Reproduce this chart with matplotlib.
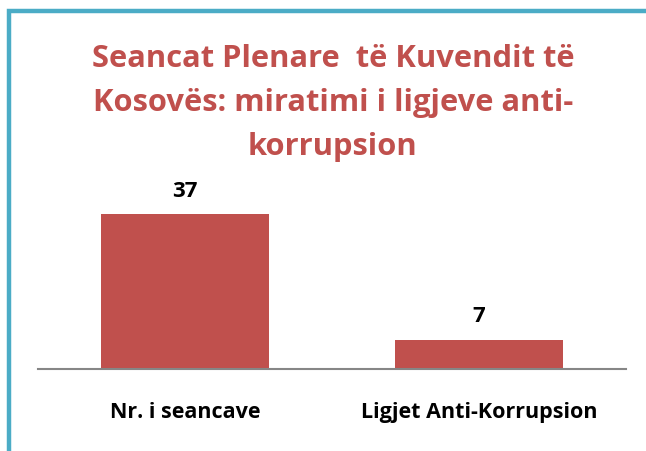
import matplotlib
matplotlib.use("Agg")
import matplotlib.pyplot as plt
from matplotlib.patches import Rectangle

categories = ["Nr. i seancave", "Ligjet Anti-Korrupsion"]
values = [37, 7]
title = "Seancat Plenare  të Kuvendit të\nKosovës: miratimi i ligjeve anti-\nkorrupsion"

W, H = 646, 452
fig = plt.figure(figsize=(W / 100, H / 100), dpi=100)
fig.patch.set_facecolor("white")

# border (cropped frame)
fig.patches.append(Rectangle((9 / W, -0.1), 1.2, (H - 12) / H + 0.1,
                             transform=fig.transFigure, fill=False,
                             edgecolor="#4BACC6", linewidth=3.2, zorder=0))

left, right, bottom = 38, 626, 370
top = bottom - 40 * 4.18
ax = fig.add_axes([left / W, 1 - bottom / H, (right - left) / W, (bottom - top) / H])
ax.set_facecolor("none")
x = range(len(categories))
bars = ax.bar(x, values, width=0.57, color="#C0504D")
ax.set_xlim(-0.5, 1.5)
ax.set_ylim(0, 40)
for s in ["top", "right", "left"]:
    ax.spines[s].set_visible(False)
ax.spines["bottom"].set_color("#868686")
ax.spines["bottom"].set_linewidth(1.5)
ax.set_yticks([])
ax.set_xticks(list(x))
ax.set_xticklabels(categories, fontsize=15.5, fontweight="bold", family="Open Sans")
ax.tick_params(axis="x", length=0, pad=23)
for b, v in zip(bars, values):
    ax.annotate(str(v), (b.get_x() + b.get_width() / 2, v), xytext=(0, 13.5),
                textcoords="offset points", ha="center", va="baseline",
                fontsize=16, fontweight="bold", family="Open Sans")

fig.text(333 / W, 1 - 44 / H, title, ha="center", va="top", fontsize=22.2,
         fontweight="bold", color="#C0504D", family="Open Sans", linespacing=1.6)

fig.savefig("out.png", dpi=100)
